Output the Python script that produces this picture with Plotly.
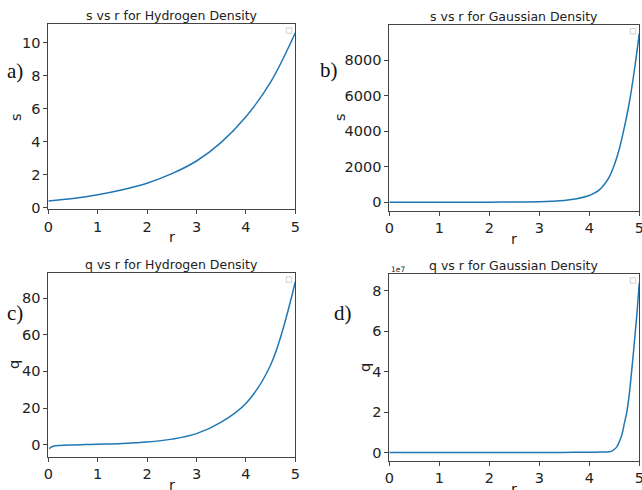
import plotly.graph_objects as go

# ---- data ----
r_a = [0, 0.5, 1, 1.5, 2, 2.5, 3, 3.5, 4, 4.5, 5]
s_hydrogen = [0.40, 0.55, 0.77, 1.07, 1.47, 2.05, 2.82, 3.95, 5.5, 7.6, 10.6]

r_b = [0, 0.5, 1, 1.5, 2, 2.5, 3, 3.25, 3.5, 3.75, 4, 4.1, 4.2, 4.3, 4.4, 4.5, 4.6, 4.7, 4.8, 4.9, 5]
s_gauss = [1, 1.3, 2, 3.5, 6, 14, 35, 60, 105, 200, 380, 510, 700, 1000, 1430, 2100, 3000, 4200, 5600, 7400, 9500]

r_c = [0.02, 0.05, 0.1, 0.15, 0.2, 0.3, 0.5, 0.75, 1, 1.5, 2, 2.5, 3, 3.5, 4, 4.5, 5]
q_hydrogen = [-2.2, -1.5, -0.9, -0.6, -0.45, -0.3, -0.15, 0.0, 0.2, 0.6, 1.4, 3.0, 6.0, 12.3, 22.5, 43.5, 89]

r_d = [0, 1, 2, 3, 3.5, 4, 4.2, 4.4, 4.45, 4.5, 4.55, 4.6, 4.65, 4.7, 4.75, 4.8, 4.85, 4.9, 4.95, 5]
q_gauss = [0, 0, 0, 1e4, 5e4, 1.2e5, 2.2e5, 4e5, 7e5, 1.6e6, 2.8e6, 5.3e6, 8.6e6,
           1.43e7, 2.0e7, 2.9e7, 4.1e7, 5.4e7, 6.8e7, 8.4e7]

x_ticks = [0, 1, 2, 3, 4, 5]
yticks_a = [0, 2, 4, 6, 8, 10]
yticks_b = [0, 2000, 4000, 6000, 8000]
yticks_c = [0, 20, 40, 60, 80]
yticks_d = [0, 2e7, 4e7, 6e7, 8e7]
yticktext_d = ["0", "2", "4", "6", "8"]

titles = ["s vs r for Hydrogen Density", "s vs r for Gaussian Density",
          "q vs r for Hydrogen Density", "q vs r for Gaussian Density"]
ylabels = ["s", "s", "q", "q"]
panel_tags = ["a)", "b)", "c)", "d)"]

W, H = 642, 490
C0 = "#1f77b4"
FONT = "DejaVu Sans"
SPINE = "#444444"

# plot-area pixel boxes (left, top, right, bottom)
boxes = [(48.3, 24.3, 295.3, 209.3),
         (389.3, 25.0, 639.3, 210.7),
         (48.3, 273.3, 295.3, 457.0),
         (389.3, 274.3, 639.3, 461.0)]

def xdom(b):
    return [b[0] / W, b[2] / W]

def ydom(b):
    return [1 - b[3] / H, 1 - b[1] / H]

def mpl_range(vals):
    lo, hi = min(vals), max(vals)
    pad = 0.05 * (hi - lo)
    return [lo - pad, hi + pad]

series = [(r_a, s_hydrogen, yticks_a, None),
          (r_b, s_gauss, yticks_b, None),
          (r_c, q_hydrogen, yticks_c, None),
          (r_d, q_gauss, yticks_d, yticktext_d)]

fig = go.Figure()
layout = dict(width=W, height=H, margin=dict(l=0, r=0, t=0, b=0, autoexpand=False),
              paper_bgcolor="white", plot_bgcolor="white", showlegend=False,
              font=dict(family=FONT, color="#222222"))
annotations = []
shapes = []

for i, (xs, ys, yt, ytt) in enumerate(series):
    n = "" if i == 0 else str(i + 1)
    b = boxes[i]
    fig.add_trace(go.Scatter(x=xs, y=ys, mode="lines", xaxis="x" + n, yaxis="y" + n,
                             line=dict(color=C0, width=1.5, shape="spline", smoothing=1.0),
                             hoverinfo="skip"))
    axstyle = dict(showline=True, linecolor=SPINE, linewidth=1, mirror=True,
                   ticks="outside", ticklen=4, tickcolor=SPINE, showgrid=False,
                   zeroline=False, automargin=False, ticklabeloverflow="allow",
                   tickfont=dict(size=14.5, family=FONT, color="#222222"))
    layout["xaxis" + n] = dict(domain=xdom(b), range=[0, 5], tickvals=x_ticks,
                               anchor="y" + n, **axstyle)
    yax = dict(domain=ydom(b), range=mpl_range(ys), tickvals=yt, anchor="x" + n, **axstyle)
    if ytt is not None:
        yax["ticktext"] = ytt
    layout["yaxis" + n] = yax

    cx = (b[0] + b[2]) / 2
    # title
    annotations.append(dict(text=titles[i], x=cx / W, y=1 - (b[1] - 8.5) / H,
                            xref="paper", yref="paper", showarrow=False,
                            xanchor="center", yanchor="middle",
                            font=dict(size=12.5, family=FONT, color="#222222")))
    # x label
    annotations.append(dict(text="r", x=cx / W, y=1 - (b[3] + 28) / H,
                            xref="paper", yref="paper", showarrow=False,
                            xanchor="center", yanchor="middle",
                            font=dict(size=14.5, family=FONT, color="#222222")))
    # empty legend box
    shapes.append(dict(type="rect", xref="paper", yref="paper",
                       x0=(b[2] - 9) / W, x1=(b[2] - 3.5) / W,
                       y0=1 - (b[1] + 9) / H, y1=1 - (b[1] + 3.5) / H,
                       line=dict(color="#d0d0d0", width=1), fillcolor="white"))

# y labels
ylab_pos = [(16, 117), (340, 117), (14, 365), (365, 368)]
for (px, py), lab in zip(ylab_pos, ylabels):
    annotations.append(dict(text=lab, x=px / W, y=1 - py / H, xref="paper", yref="paper",
                            showarrow=False, textangle=-90, xanchor="center", yanchor="middle",
                            font=dict(size=14.5, family=FONT, color="#222222")))

# panel tags
tag_pos = [(15, 71), (329, 70), (15, 313), (343, 313)]
for (px, py), tag in zip(tag_pos, panel_tags):
    annotations.append(dict(text=tag, x=px / W, y=1 - py / H, xref="paper", yref="paper",
                            showarrow=False, xanchor="center", yanchor="middle",
                            font=dict(size=21, family="Liberation Serif", color="#111111")))

# offset text
annotations.append(dict(text="1e7", x=389 / W, y=1 - 269 / H, xref="paper", yref="paper",
                        showarrow=False, xanchor="left", yanchor="middle",
                        font=dict(size=7.5, family=FONT, color="#222222")))

layout["annotations"] = annotations
layout["shapes"] = shapes
fig.update_layout(**layout)
fig.write_html("out.html", config={"displayModeBar": False},
               post_script="document.body.style.margin='0px';document.body.style.overflow='hidden';")
